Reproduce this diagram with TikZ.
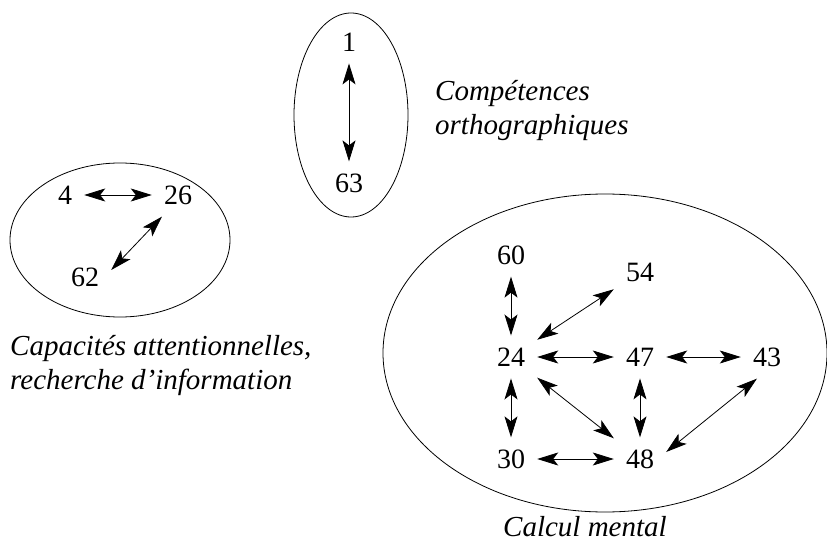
\documentclass[tikz,border=0pt]{standalone}
\usepackage{fontspec}
\setmainfont{Liberation Serif}
\usetikzlibrary{arrows.meta,positioning}
\tikzset{
  numv/.style={inner sep=12pt,font=\fontsize{28}{32}\selectfont},
  grouplbl/.style={inner sep=0pt,align=left,anchor=base west,font=\fontsize{29}{34}\selectfont\itshape},
  groupEll/.style={line width=0.8pt},
  pairArrow/.style={{Stealth[length=21pt,width=13pt,inset=5pt]}-{Stealth[length=21pt,width=13pt,inset=5pt]},line width=0.8pt}
}

\begin{document}
\begin{tikzpicture}[x=1pt,y=-1pt]
  \useasboundingbox (0,0) rectangle (827,548);

  % orthographe
  \draw[groupEll] (351,115) ellipse [x radius=57pt,y radius=102pt];
  \node[numv] (n1) at (349,42) {1};
  \node[numv] (n63) at (349,183) {63};
  \draw[pairArrow] (n1) -- (n63);
  \node[grouplbl] (ortho) at (435,135) {Compétences\\orthographiques};

  % attention
  \draw[groupEll] (120,240) ellipse [x radius=110pt,y radius=77pt];
  \node[numv] (n4) at (65,195) {4};
  \node[numv] (n26) at (178,195) {26};
  \node[numv] (n62) at (85,277) {62};
  \draw[pairArrow] (n4) -- (n26);
  \draw[pairArrow] ([xshift=-16pt]n26.south) -- ([yshift=7pt]n62.east);
  \node[grouplbl] (attn) at (10,389) {Capacités attentionnelles,\\recherche d’information};

  % calcul
  \draw[groupEll] (605,353) ellipse [x radius=222pt,y radius=159pt];
  \node[numv] (n60) at (511,255) {60};
  \node[numv] (n54) at (640,272) {54};
  \node[numv] (n24) at (511,357) {24};
  \node[numv] (n47) at (640,357) {47};
  \node[numv] (n43) at (767,357) {43};
  \node[numv] (n30) at (511,459) {30};
  \node[numv] (n48) at (640,459) {48};
  \draw[pairArrow] (n60) -- (n24);
  \draw[pairArrow] (n24) -- (n54);
  \draw[pairArrow] (n24) -- (n47);
  \draw[pairArrow] (n47) -- (n43);
  \draw[pairArrow] (n24) -- (n30);
  \draw[pairArrow] (n24) -- (n48);
  \draw[pairArrow] (n47) -- (n48);
  \draw[pairArrow] ([xshift=-10pt]n43.south) -- ([yshift=7pt]n48.east);
  \draw[pairArrow] (n30) -- (n48);
  \node[grouplbl] (calc) at (503,536) {Calcul mental};
\end{tikzpicture}
\end{document}
